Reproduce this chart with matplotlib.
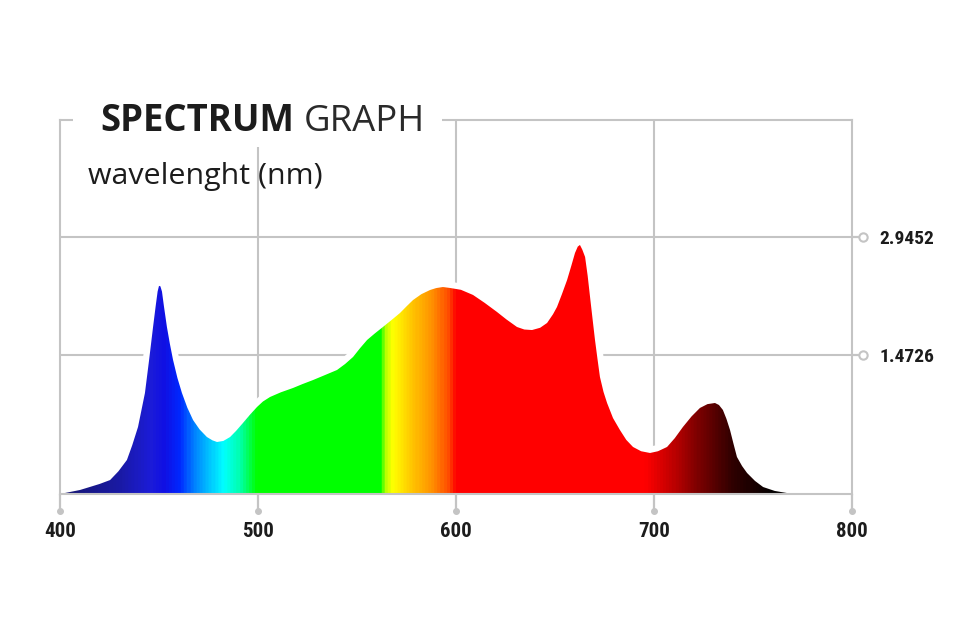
import numpy as np
import matplotlib
matplotlib.use("Agg")
import matplotlib.pyplot as plt
from matplotlib import font_manager as fm
from matplotlib.colors import LinearSegmentedColormap
from matplotlib.patches import Polygon, Rectangle
import matplotlib.transforms as mtransforms

# ---------------- data ----------------
wavelength = [400.0, 410.1, 415.0, 420.0, 425.3, 429.5, 433.8, 436.5, 439.4, 442.9,
              445.0, 447.0, 448.3, 449.3, 450.0, 450.7, 451.5, 452.5, 454.0, 455.5,
              457.1, 459.3, 461.6, 464.3, 467.2, 470.5, 474.2, 477.0, 479.3, 482.5,
              485.9, 489.0, 492.4, 496.0, 499.5, 502.5, 506.1, 511.5, 517.7, 522.5,
              527.8, 533.5, 539.9, 544.0, 548.0, 551.5, 555.1, 559.0, 563.1, 567.5,
              571.7, 575.0, 578.3, 582.5, 586.9, 590.0, 593.4, 597.0, 602.5, 608.6,
              614.5, 620.7, 625.5, 630.8, 634.5, 638.4, 642.5, 646.0, 649.0, 651.0,
              653.5, 656.1, 658.3, 660.1, 661.5, 662.6, 663.8, 665.2, 666.5, 667.7,
              669.0, 670.2, 671.5, 672.7, 674.5, 676.3, 679.3, 682.8, 686.0, 689.4,
              693.5, 698.0, 702.0, 706.6, 710.5, 714.6, 719.0, 723.2, 727.0, 730.8,
              732.8, 734.8, 736.6, 738.4, 740.1, 741.9, 744.5, 747.0, 751.0, 755.1,
              761.0, 767.2, 773.7]
intensity = [0.000, 0.046, 0.080, 0.115, 0.160, 0.260, 0.390, 0.560, 0.768, 1.157,
             1.536, 1.914, 2.150, 2.320, 2.385, 2.380, 2.320, 2.150, 1.914, 1.720,
             1.536, 1.330, 1.157, 0.990, 0.848, 0.740, 0.653, 0.615, 0.596, 0.608,
             0.653, 0.725, 0.814, 0.910, 0.997, 1.060, 1.112, 1.165, 1.215, 1.260,
             1.306, 1.360, 1.421, 1.490, 1.570, 1.670, 1.765, 1.840, 1.914, 1.995,
             2.074, 2.150, 2.223, 2.290, 2.338, 2.360, 2.372, 2.361, 2.340, 2.281,
             2.190, 2.086, 2.000, 1.914, 1.885, 1.879, 1.905, 1.960, 2.060, 2.143,
             2.290, 2.452, 2.620, 2.762, 2.835, 2.854, 2.800, 2.716, 2.500, 2.258,
             2.000, 1.765, 1.540, 1.341, 1.170, 1.043, 0.870, 0.733, 0.620, 0.539,
             0.490, 0.470, 0.490, 0.539, 0.640, 0.768, 0.890, 0.986, 1.030, 1.043,
             1.020, 0.963, 0.860, 0.733, 0.580, 0.424, 0.320, 0.241, 0.150, 0.080,
             0.035, 0.011, 0.000]

x_ticks = [400, 500, 600, 700, 800]
x_tick_labels = ["400", "500", "600", "700", "800"]
y_tick_positions = [1.593, 2.9452]
y_tick_labels = ["1.4726", "2.9452"]

# spectrum colour stops (wavelength, colour)
color_stops = [(400, "#15156e"), (430, "#1a1aa6"), (445, "#1c1cd8"), (452, "#1010e4"),
               (460, "#0028ff"), (467, "#0080ff"), (475, "#00c4ff"), (482, "#00ffff"),
               (490, "#00ffb0"), (499, "#00ff00"), (562, "#00ff00"), (564, "#b0ff00"),
               (568, "#ffff00"), (578, "#ffc400"), (588, "#ff9000"), (596, "#ff4c00"),
               (600, "#ff0000"), (696, "#ff0000"), (710, "#c00000"), (722, "#800000"),
               (740, "#300000"), (760, "#050000"), (800, "#000000")]

title_bold = "SPECTRUM"
title_regular = "GRAPH"
subtitle = "wavelenght (nm)"

# ---------------- fonts ----------------
names = {f.name for f in fm.fontManager.ttflist}
cond_font = next((n for n in ["Roboto Condensed", "Liberation Sans Narrow"] if n in names), "Roboto")
title_font = "Open Sans"

GRID = "#c4c4c4"
TXT = "#1c1c1c"

fig = plt.figure(figsize=(9.6, 6.4), dpi=100)
fig.patch.set_facecolor("white")
W, H = 960, 640
x0, x1, ytop, ybot = 60, 852, 120, 494
ax = fig.add_axes([x0 / W, (H - ybot) / H, (x1 - x0) / W, (ybot - ytop) / H])
ymax = 4.286
ax.set_xlim(400, 800)
ax.set_ylim(0, ymax)

# grid
for xv in x_ticks[1:-1]:
    ax.axvline(xv, color=GRID, lw=1.5, zorder=1)
for yv in y_tick_positions:
    ax.axhline(yv, color=GRID, lw=1.5, zorder=1)

# white halo around the curve
ax.plot(wavelength, intensity, color="white", lw=9, zorder=1.5, solid_capstyle="round")

# gradient fill clipped to the spectrum shape
lo, hi = 400.0, 800.0
cmap = LinearSegmentedColormap.from_list(
    "spec", [((w - lo) / (hi - lo), c) for w, c in color_stops])
grad = np.linspace(0, 1, 800).reshape(1, -1)
verts = list(zip(wavelength, intensity)) + [(wavelength[-1], 0), (wavelength[0], 0)]
poly = Polygon(verts, closed=True, facecolor="none", edgecolor="none", transform=ax.transData)
ax.add_patch(poly)
im = ax.imshow(grad, cmap=cmap, extent=[lo, hi, 0, ymax], aspect="auto",
               interpolation="bilinear", zorder=2)
im.set_clip_path(poly)

# spines
for s in ax.spines.values():
    s.set_color(GRID)
    s.set_linewidth(1.5)

# ticks
ax.set_xticks(x_ticks)
ax.set_xticklabels(x_tick_labels)
ax.tick_params(axis="x", direction="out", length=13, width=1.6, color=GRID, pad=7,
               labelsize=15, labelcolor=TXT)
for lab in ax.get_xticklabels():
    lab.set_fontfamily(cond_font)
    lab.set_fontweight("bold")
ax.yaxis.tick_right()
ax.set_yticks(y_tick_positions)
ax.set_yticklabels(y_tick_labels)
ax.tick_params(axis="y", direction="out", length=6, width=1.6, color=GRID, pad=14,
               labelsize=14, labelcolor=TXT)
for lab in ax.get_yticklabels():
    lab.set_fontfamily(cond_font)
    lab.set_fontweight("bold")

# decorative ends of ticks
trans_r = mtransforms.blended_transform_factory(ax.transAxes, ax.transData)
ax.plot([1.0139] * len(y_tick_positions), y_tick_positions, "o", ms=6, mfc="white",
        mec=GRID, mew=1.5, transform=trans_r, clip_on=False, zorder=5)
trans_b = mtransforms.blended_transform_factory(ax.transData, ax.transAxes)
ax.plot(x_ticks, [-0.045] * len(x_ticks), "o", ms=4, color=GRID,
        transform=trans_b, clip_on=False, zorder=5)

# white box behind the title (interrupts frame and grid)
ax.add_patch(Rectangle(((73 - x0) / (x1 - x0), (ybot - 147) / (ybot - ytop)),
                       (442 - 73) / (x1 - x0), 0.2, transform=ax.transAxes,
                       facecolor="white", edgecolor="none", clip_on=False, zorder=3))

# titles
t1 = fig.text(100 / W, 1 - 131 / H, title_bold, fontfamily=title_font, fontweight="bold",
              fontsize=26.3, color=TXT, va="baseline", ha="left", zorder=6)
fig.canvas.draw()
bb = t1.get_window_extent()
fig.text((bb.x1 + 10) / W, 1 - 131 / H, title_regular, fontfamily=title_font,
         fontweight="normal", fontsize=26.3, color="#2a2a2a", va="baseline", ha="left", zorder=6)
fig.text(88 / W, 1 - 184 / H, subtitle, fontfamily=title_font, fontsize=21.9, color=TXT,
         va="baseline", ha="left", zorder=6)

fig.savefig("out.png", dpi=100, facecolor="white")
